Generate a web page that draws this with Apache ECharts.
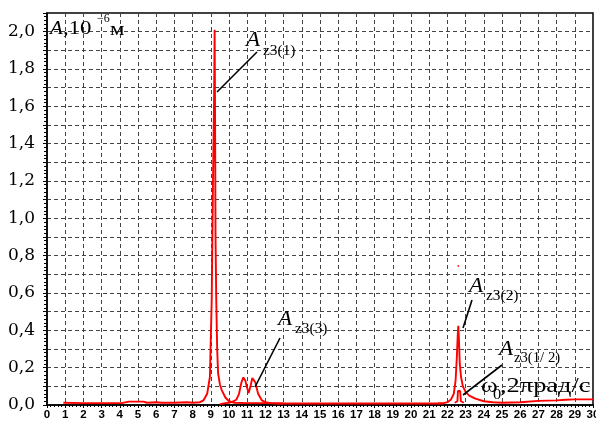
<!DOCTYPE html>
<html><head><meta charset="utf-8">
<script src="https://cdn.jsdelivr.net/npm/echarts@6/dist/echarts.min.js"></script>
<style>html,body{margin:0;padding:0;background:#fff}#c{width:596px;height:423px}</style>
</head><body><div id="c"></div>
<script>
// A_z3(1): baseline + main resonance peak (frequency in 2π rad/s, amplitude in 1e-6 m)
const z31Freq = [0.9, 1.0, 2.0, 3.0, 4.1, 4.2, 4.5, 5.3, 5.5, 6.0, 6.3, 7.0, 7.7, 8.0, 8.4, 8.6, 8.8, 8.95, 9.05, 9.12, 9.18, 9.21, 9.23, 9.26, 9.3, 9.35, 9.4, 9.5, 9.6, 9.8, 10.0, 10.3, 11.0, 12.0, 13.0, 14.0, 16.0, 18.0, 20.0, 21.5, 21.8];
const z31Amp  = [0.012, 0.01, 0.01, 0.01, 0.01, 0.018, 0.018, 0.018, 0.012, 0.015, 0.012, 0.012, 0.015, 0.012, 0.015, 0.025, 0.06, 0.15, 0.56, 1.2, 1.64, 2.01, 1.64, 0.9, 0.56, 0.3, 0.17, 0.11, 0.08, 0.04, 0.02, 0.012, 0.01, 0.01, 0.008, 0.008, 0.008, 0.008, 0.008, 0.008, 0.008];
// A_z3(3): double peak
const z33Freq = [9.5, 9.8, 10.0, 10.2, 10.4, 10.55, 10.68, 10.79, 10.9, 11.0, 11.08, 11.18, 11.28, 11.34, 11.45, 11.6, 11.8, 12.0, 12.3, 13.0];
const z33Amp  = [0.005, 0.01, 0.012, 0.018, 0.028, 0.06, 0.12, 0.148, 0.13, 0.09, 0.064, 0.1, 0.145, 0.15, 0.12, 0.06, 0.025, 0.015, 0.01, 0.008];
// A_z3(2): second resonance
const z32Freq = [21.5, 21.8, 22.0, 22.2, 22.35, 22.45, 22.52, 22.57, 22.6, 22.63, 22.68, 22.75, 22.85, 23.0, 23.2, 23.5, 24.0, 24.5, 25.0, 26.0, 27.0, 28.0, 28.5, 29.0, 30.0];
const z32Amp  = [0.008, 0.01, 0.015, 0.03, 0.06, 0.13, 0.26, 0.38, 0.424, 0.36, 0.22, 0.15, 0.1, 0.07, 0.05, 0.035, 0.02, 0.015, 0.012, 0.015, 0.022, 0.025, 0.028, 0.03, 0.03];
// A_z3(1/2): small sub-harmonic peak
const z3hFreq = [22.4, 22.55, 22.58, 22.63, 22.7, 22.74, 22.9];
const z3hAmp  = [0.012, 0.02, 0.075, 0.08, 0.075, 0.02, 0.012];
// isolated point
const strayFreq = [22.6];
const strayAmp  = [0.745];

const xTickMax = 30, yTickMax = 2.1;

function pairs(xs, ys) { return xs.map((x, i) => [x, ys[i]]); }

const chart = echarts.init(document.getElementById('c'), null, {renderer: 'canvas'});
const red = '#ff0000';
const lineSeries = (d) => ({type: 'line', data: d, showSymbol: false, symbol: 'none', smooth: false,
  lineStyle: {color: red, width: 1.9}, animation: false, z: 3});

const serif = '"Liberation Serif", "Times New Roman", serif';
function txt(x, y, text, size, opts) {
  opts = opts || {};
  return {type: 'text', x: x, y: y, scaleX: opts.sx || 1.2, z: 10,
    style: {text: text, font: (opts.italic ? 'italic ' : '') + size + 'px ' + serif,
      fill: '#000', textAlign: 'left', textVerticalAlign: 'middle'}};
}
function ln(x1, y1, x2, y2) {
  return {type: 'line', z: 10, shape: {x1: x1, y1: y1, x2: x2, y2: y2}, style: {stroke: '#000', lineWidth: 1.6}};
}

chart.setOption({
  animation: false,
  backgroundColor: '#fff',
  grid: {left: 47, right: 3, top: 13, bottom: 18, show: true, borderColor: '#000', borderWidth: 1.5,
    containLabel: false, outerBoundsMode: 'none'},
  xAxis: {
    type: 'value', min: 0, max: xTickMax, interval: 1,
    axisLine: {show: true, lineStyle: {color: '#000', width: 1.5}},
    axisTick: {show: true, length: 3, lineStyle: {color: '#000'}},
    minorTick: {show: true, splitNumber: 5, length: 2, lineStyle: {color: '#000'}},
    axisLabel: {color: '#000', fontFamily: '"Liberation Sans Narrow", "Liberation Sans", Arial, sans-serif', fontWeight: 'bold', fontSize: 11.5, margin: 4, hideOverlap: false},
    splitLine: {show: true, lineStyle: {color: '#444', width: 1, type: [4, 3]}}
  },
  yAxis: {
    type: 'value', min: 0, max: yTickMax, interval: 0.1,
    axisLine: {show: true, lineStyle: {color: '#000', width: 1.5}},
    axisTick: {show: true, length: 4, lineStyle: {color: '#000'}},
    minorTick: {show: true, splitNumber: 5, length: 3, lineStyle: {color: '#000'}},
    axisLabel: {color: '#000', fontFamily: '"DejaVu Serif", serif', fontSize: 17, margin: 12,
      formatter: function (v) { const k = Math.round(v * 10); return (k % 2 === 0 && k <= 20) ? (k / 10).toFixed(1).replace('.', ',') : ''; }},
    splitLine: {show: true, lineStyle: {color: '#444', width: 1, type: [4, 3]}}
  },
  series: [
    lineSeries(pairs(z31Freq, z31Amp)),
    lineSeries(pairs(z33Freq, z33Amp)),
    lineSeries(pairs(z32Freq, z32Amp)),
    lineSeries(pairs(z3hFreq, z3hAmp)),
    {type: 'scatter', data: pairs(strayFreq, strayAmp), symbolSize: 2, itemStyle: {color: red}, animation: false}
  ],
  graphic: [
    // axis title top-left
    txt(50, 29, 'A', 19, {italic: true, sx: 1.1}),
    txt(63, 29, ',10', 19, {sx: 1.2}),
    txt(97, 19, '\u22126', 12, {sx: 1.0}),
    txt(110, 30, '\u043c', 19, {sx: 1.2}),
    // A_z3(1)
    txt(246, 40, 'A', 22, {italic: true, sx: 1.05}),
    txt(263, 51, 'z3(1)', 14, {sx: 1.1}),
    ln(257, 52, 217, 92),
    // A_z3(3)
    txt(278, 319, 'A', 22, {italic: true, sx: 1.05}),
    txt(295, 329, 'z3(3)', 14, {sx: 1.1}),
    ln(280, 338, 255, 387),
    // A_z3(2)
    txt(469, 286, 'A', 22, {italic: true, sx: 1.05}),
    txt(486, 296, 'z3(2)', 14, {sx: 1.1}),
    ln(472, 300, 463, 328),
    // A_z3(1/2)
    txt(499, 349, 'A', 22, {italic: true, sx: 1.05}),
    txt(514, 358, 'z3(1/ 2)', 14, {sx: 1.05}),
    ln(502, 365, 463, 395),
    // frequency axis title
    txt(481, 386, '\u03c9', 22, {sx: 1.15}),
    txt(493, 395, '0', 15, {sx: 1.1}),
    txt(500, 386, ',2\u03c0\u0440\u0430\u0434/\u0441', 22, {sx: 1.2})
  ]
});
</script>
</body></html>
